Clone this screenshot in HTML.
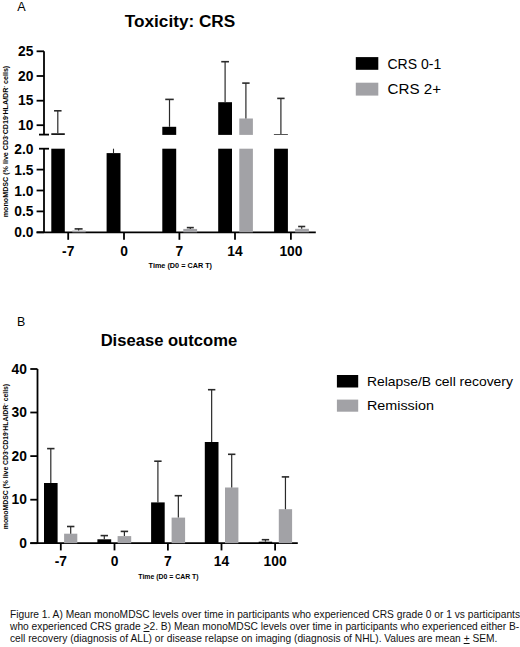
<!DOCTYPE html>
<html><head><meta charset="utf-8"><style>
html,body{margin:0;padding:0;background:#fff;}
body{width:520px;height:647px;overflow:hidden;position:relative;font-family:"Liberation Sans", sans-serif;}
svg{position:absolute;left:0;top:0;}
svg text{font-family:"Liberation Sans", sans-serif;fill:#000;}
.cap{position:absolute;left:10px;top:608.9px;width:515px;font-size:10.22px;line-height:12.12px;color:#111;white-space:nowrap;}
</style></head><body>
<svg width="520" height="647" viewBox="0 0 520 647">
<text x="17.20" y="10.90" font-size="12.6" font-weight="normal" text-anchor="start" >A</text>
<text x="180.00" y="27.10" font-size="17.2" font-weight="bold" text-anchor="middle" >Toxicity: CRS</text>
<line x1="44.00" y1="51.30" x2="44.00" y2="134.60" stroke="#000" stroke-width="1.8"/>
<line x1="44.00" y1="148.70" x2="44.00" y2="232.30" stroke="#000" stroke-width="1.8"/>
<line x1="39.00" y1="134.60" x2="49.00" y2="134.60" stroke="#000" stroke-width="1.8"/>
<line x1="39.00" y1="148.70" x2="49.00" y2="148.70" stroke="#000" stroke-width="1.8"/>
<line x1="36.60" y1="51.30" x2="44.00" y2="51.30" stroke="#000" stroke-width="1.8"/>
<text x="33.40" y="55.90" font-size="13.8" font-weight="bold" text-anchor="end" >25</text>
<line x1="36.60" y1="76.00" x2="44.00" y2="76.00" stroke="#000" stroke-width="1.8"/>
<text x="33.40" y="80.60" font-size="13.8" font-weight="bold" text-anchor="end" >20</text>
<line x1="36.60" y1="100.70" x2="44.00" y2="100.70" stroke="#000" stroke-width="1.8"/>
<text x="33.40" y="105.30" font-size="13.8" font-weight="bold" text-anchor="end" >15</text>
<line x1="36.60" y1="125.20" x2="44.00" y2="125.20" stroke="#000" stroke-width="1.8"/>
<text x="33.40" y="129.80" font-size="13.8" font-weight="bold" text-anchor="end" >10</text>
<text x="33.40" y="153.70" font-size="13.8" font-weight="bold" text-anchor="end" >2.0</text>
<line x1="36.60" y1="169.60" x2="44.00" y2="169.60" stroke="#000" stroke-width="1.8"/>
<text x="33.40" y="174.60" font-size="13.8" font-weight="bold" text-anchor="end" >1.5</text>
<line x1="36.60" y1="190.50" x2="44.00" y2="190.50" stroke="#000" stroke-width="1.8"/>
<text x="33.40" y="195.50" font-size="13.8" font-weight="bold" text-anchor="end" >1.0</text>
<line x1="36.60" y1="211.40" x2="44.00" y2="211.40" stroke="#000" stroke-width="1.8"/>
<text x="33.40" y="216.40" font-size="13.8" font-weight="bold" text-anchor="end" >0.5</text>
<line x1="36.60" y1="232.30" x2="44.00" y2="232.30" stroke="#000" stroke-width="1.8"/>
<text x="33.40" y="237.30" font-size="13.8" font-weight="bold" text-anchor="end" >0.0</text>
<line x1="36.60" y1="232.30" x2="315.80" y2="232.30" stroke="#000" stroke-width="1.8"/>
<line x1="68.20" y1="232.30" x2="68.20" y2="239.80" stroke="#000" stroke-width="1.8"/>
<text x="68.20" y="255.60" font-size="13.8" font-weight="bold" text-anchor="middle" >-7</text>
<line x1="124.00" y1="232.30" x2="124.00" y2="239.80" stroke="#000" stroke-width="1.8"/>
<text x="124.00" y="255.60" font-size="13.8" font-weight="bold" text-anchor="middle" >0</text>
<line x1="179.40" y1="232.30" x2="179.40" y2="239.80" stroke="#000" stroke-width="1.8"/>
<text x="179.40" y="255.60" font-size="13.8" font-weight="bold" text-anchor="middle" >7</text>
<line x1="235.00" y1="232.30" x2="235.00" y2="239.80" stroke="#000" stroke-width="1.8"/>
<text x="235.00" y="255.60" font-size="13.8" font-weight="bold" text-anchor="middle" >14</text>
<line x1="290.90" y1="232.30" x2="290.90" y2="239.80" stroke="#000" stroke-width="1.8"/>
<text x="290.90" y="255.60" font-size="13.8" font-weight="bold" text-anchor="middle" >100</text>
<text x="180.30" y="267.90" font-size="7.7" font-weight="bold" text-anchor="middle" textLength="63.4" lengthAdjust="spacingAndGlyphs">Time (D0 = CAR T)</text>
<text transform="translate(8.1,141.5) rotate(-90)" font-size="7.7" font-weight="bold" text-anchor="middle" textLength="151.5" lengthAdjust="spacingAndGlyphs">monoMDSC (% live CD3<tspan font-size="5" dy="-2.5">-</tspan><tspan dy="2.5">CD19</tspan><tspan font-size="5" dy="-2.5">-</tspan><tspan dy="2.5">HLA/DR</tspan><tspan font-size="5" dy="-2.5">-</tspan><tspan dy="2.5"> cells)</tspan></text>
<rect x="51.30" y="148.70" width="13.50" height="83.60" fill="#000"/>
<rect x="51.30" y="133.30" width="13.50" height="1.60" fill="#000"/>
<line x1="57.80" y1="110.60" x2="57.80" y2="133.30" stroke="#2a2a2a" stroke-width="1.2"/>
<line x1="54.05" y1="110.80" x2="61.55" y2="110.80" stroke="#2a2a2a" stroke-width="1.6"/>
<rect x="72.30" y="230.60" width="13.40" height="1.70" fill="#a2a2a6"/>
<line x1="78.60" y1="228.70" x2="78.60" y2="230.60" stroke="#2a2a2a" stroke-width="1.2"/>
<line x1="74.60" y1="228.90" x2="82.60" y2="228.90" stroke="#2a2a2a" stroke-width="1.6"/>
<rect x="106.60" y="153.10" width="13.90" height="79.20" fill="#000"/>
<line x1="113.50" y1="148.70" x2="113.50" y2="153.10" stroke="#2a2a2a" stroke-width="1.1"/>
<rect x="162.30" y="148.70" width="13.90" height="83.60" fill="#000"/>
<rect x="162.30" y="126.80" width="13.90" height="8.10" fill="#000"/>
<line x1="169.50" y1="99.20" x2="169.50" y2="126.80" stroke="#2a2a2a" stroke-width="1.2"/>
<line x1="165.25" y1="99.40" x2="173.75" y2="99.40" stroke="#2a2a2a" stroke-width="1.6"/>
<rect x="183.30" y="228.90" width="13.80" height="3.40" fill="#a2a2a6"/>
<line x1="190.30" y1="227.40" x2="190.30" y2="228.90" stroke="#2a2a2a" stroke-width="1.2"/>
<line x1="186.80" y1="227.60" x2="193.80" y2="227.60" stroke="#2a2a2a" stroke-width="1.6"/>
<rect x="218.20" y="148.70" width="13.80" height="83.60" fill="#000"/>
<rect x="218.20" y="102.20" width="13.80" height="32.70" fill="#000"/>
<line x1="225.10" y1="61.50" x2="225.10" y2="102.20" stroke="#2a2a2a" stroke-width="1.2"/>
<line x1="221.25" y1="61.70" x2="228.95" y2="61.70" stroke="#2a2a2a" stroke-width="1.6"/>
<rect x="239.30" y="148.70" width="13.60" height="83.60" fill="#a2a2a6"/>
<rect x="239.30" y="118.50" width="13.60" height="16.40" fill="#a2a2a6"/>
<line x1="245.90" y1="82.90" x2="245.90" y2="118.50" stroke="#2a2a2a" stroke-width="1.2"/>
<line x1="242.20" y1="83.10" x2="249.60" y2="83.10" stroke="#2a2a2a" stroke-width="1.6"/>
<rect x="274.10" y="148.70" width="13.80" height="83.60" fill="#000"/>
<line x1="280.90" y1="98.20" x2="280.90" y2="134.50" stroke="#2a2a2a" stroke-width="1.2"/>
<line x1="277.20" y1="98.40" x2="284.60" y2="98.40" stroke="#2a2a2a" stroke-width="1.6"/>
<line x1="273.90" y1="134.50" x2="287.90" y2="134.50" stroke="#555" stroke-width="1.0"/>
<rect x="295.10" y="228.80" width="13.80" height="3.50" fill="#a2a2a6"/>
<line x1="301.70" y1="226.30" x2="301.70" y2="228.80" stroke="#2a2a2a" stroke-width="1.2"/>
<line x1="298.15" y1="226.50" x2="305.25" y2="226.50" stroke="#2a2a2a" stroke-width="1.6"/>
<rect x="355.80" y="57.10" width="22.50" height="12.70" fill="#000"/>
<rect x="355.80" y="82.70" width="22.50" height="12.90" fill="#a2a2a6"/>
<text x="387.50" y="68.70" font-size="14" font-weight="normal" text-anchor="start" >CRS 0-1</text>
<text x="387.50" y="93.60" font-size="14" font-weight="normal" text-anchor="start" textLength="53.5" lengthAdjust="spacingAndGlyphs">CRS 2+</text>
<text x="16.90" y="325.90" font-size="12.4" font-weight="normal" text-anchor="start" >B</text>
<text x="168.90" y="346.00" font-size="16.6" font-weight="bold" text-anchor="middle" >Disease outcome</text>
<line x1="37.50" y1="369.00" x2="37.50" y2="543.20" stroke="#000" stroke-width="1.8"/>
<line x1="30.30" y1="369.00" x2="37.50" y2="369.00" stroke="#000" stroke-width="1.8"/>
<text x="26.90" y="373.60" font-size="13.8" font-weight="bold" text-anchor="end" >40</text>
<line x1="30.30" y1="412.50" x2="37.50" y2="412.50" stroke="#000" stroke-width="1.8"/>
<text x="26.90" y="417.10" font-size="13.8" font-weight="bold" text-anchor="end" >30</text>
<line x1="30.30" y1="456.10" x2="37.50" y2="456.10" stroke="#000" stroke-width="1.8"/>
<text x="26.90" y="460.70" font-size="13.8" font-weight="bold" text-anchor="end" >20</text>
<line x1="30.30" y1="499.70" x2="37.50" y2="499.70" stroke="#000" stroke-width="1.8"/>
<text x="26.90" y="504.30" font-size="13.8" font-weight="bold" text-anchor="end" >10</text>
<line x1="30.30" y1="543.20" x2="37.50" y2="543.20" stroke="#000" stroke-width="1.8"/>
<text x="26.90" y="547.80" font-size="13.8" font-weight="bold" text-anchor="end" >0</text>
<line x1="30.30" y1="543.20" x2="297.80" y2="543.20" stroke="#000" stroke-width="1.8"/>
<line x1="60.80" y1="543.20" x2="60.80" y2="550.40" stroke="#000" stroke-width="1.8"/>
<text x="60.80" y="565.60" font-size="13.8" font-weight="bold" text-anchor="middle" >-7</text>
<line x1="114.50" y1="543.20" x2="114.50" y2="550.40" stroke="#000" stroke-width="1.8"/>
<text x="114.50" y="565.60" font-size="13.8" font-weight="bold" text-anchor="middle" >0</text>
<line x1="167.90" y1="543.20" x2="167.90" y2="550.40" stroke="#000" stroke-width="1.8"/>
<text x="167.90" y="565.60" font-size="13.8" font-weight="bold" text-anchor="middle" >7</text>
<line x1="221.50" y1="543.20" x2="221.50" y2="550.40" stroke="#000" stroke-width="1.8"/>
<text x="221.50" y="565.60" font-size="13.8" font-weight="bold" text-anchor="middle" >14</text>
<line x1="275.10" y1="543.20" x2="275.10" y2="550.40" stroke="#000" stroke-width="1.8"/>
<text x="275.10" y="565.60" font-size="13.8" font-weight="bold" text-anchor="middle" >100</text>
<text x="168.45" y="579.30" font-size="7.5" font-weight="bold" text-anchor="middle" textLength="60.3" lengthAdjust="spacingAndGlyphs">Time (D0 = CAR T)</text>
<text transform="translate(8.2,456.5) rotate(-90)" font-size="7.5" font-weight="bold" text-anchor="middle" textLength="145.3" lengthAdjust="spacingAndGlyphs">monoMDSC (% live CD3<tspan font-size="5" dy="-2.5">-</tspan><tspan dy="2.5">CD19</tspan><tspan font-size="5" dy="-2.5">-</tspan><tspan dy="2.5">HLA/DR</tspan><tspan font-size="5" dy="-2.5">-</tspan><tspan dy="2.5"> cells)</tspan></text>
<rect x="44.00" y="483.00" width="13.60" height="60.20" fill="#000"/>
<line x1="50.80" y1="448.40" x2="50.80" y2="483.00" stroke="#2a2a2a" stroke-width="1.2"/>
<line x1="47.10" y1="448.60" x2="54.50" y2="448.60" stroke="#2a2a2a" stroke-width="1.6"/>
<rect x="64.10" y="533.70" width="13.20" height="9.50" fill="#a2a2a6"/>
<line x1="70.70" y1="526.30" x2="70.70" y2="533.70" stroke="#2a2a2a" stroke-width="1.2"/>
<line x1="67.00" y1="526.50" x2="74.40" y2="526.50" stroke="#2a2a2a" stroke-width="1.6"/>
<rect x="97.40" y="539.30" width="13.80" height="3.90" fill="#000"/>
<line x1="104.30" y1="535.40" x2="104.30" y2="539.30" stroke="#2a2a2a" stroke-width="1.2"/>
<line x1="100.60" y1="535.60" x2="108.00" y2="535.60" stroke="#2a2a2a" stroke-width="1.6"/>
<rect x="117.60" y="536.10" width="13.60" height="7.10" fill="#a2a2a6"/>
<line x1="124.40" y1="531.20" x2="124.40" y2="536.10" stroke="#2a2a2a" stroke-width="1.2"/>
<line x1="120.70" y1="531.40" x2="128.10" y2="531.40" stroke="#2a2a2a" stroke-width="1.6"/>
<rect x="151.10" y="502.40" width="13.60" height="40.80" fill="#000"/>
<line x1="157.90" y1="461.00" x2="157.90" y2="502.40" stroke="#2a2a2a" stroke-width="1.2"/>
<line x1="154.20" y1="461.20" x2="161.60" y2="461.20" stroke="#2a2a2a" stroke-width="1.6"/>
<rect x="171.60" y="517.60" width="13.50" height="25.60" fill="#a2a2a6"/>
<line x1="178.35" y1="495.50" x2="178.35" y2="517.60" stroke="#2a2a2a" stroke-width="1.2"/>
<line x1="174.65" y1="495.70" x2="182.05" y2="495.70" stroke="#2a2a2a" stroke-width="1.6"/>
<rect x="204.80" y="442.00" width="13.70" height="101.20" fill="#000"/>
<line x1="211.65" y1="389.50" x2="211.65" y2="442.00" stroke="#2a2a2a" stroke-width="1.2"/>
<line x1="207.95" y1="389.70" x2="215.35" y2="389.70" stroke="#2a2a2a" stroke-width="1.6"/>
<rect x="225.00" y="487.50" width="13.40" height="55.70" fill="#a2a2a6"/>
<line x1="231.70" y1="454.10" x2="231.70" y2="487.50" stroke="#2a2a2a" stroke-width="1.2"/>
<line x1="228.00" y1="454.30" x2="235.40" y2="454.30" stroke="#2a2a2a" stroke-width="1.6"/>
<rect x="258.70" y="541.70" width="13.50" height="1.50" fill="#000"/>
<line x1="265.45" y1="539.50" x2="265.45" y2="541.70" stroke="#2a2a2a" stroke-width="1.2"/>
<line x1="261.75" y1="539.70" x2="269.15" y2="539.70" stroke="#2a2a2a" stroke-width="1.6"/>
<rect x="278.80" y="509.20" width="13.30" height="34.00" fill="#a2a2a6"/>
<line x1="285.45" y1="476.70" x2="285.45" y2="509.20" stroke="#2a2a2a" stroke-width="1.2"/>
<line x1="281.75" y1="476.90" x2="289.15" y2="476.90" stroke="#2a2a2a" stroke-width="1.6"/>
<rect x="336.90" y="375.00" width="21.30" height="12.50" fill="#000"/>
<rect x="336.90" y="399.60" width="21.30" height="12.10" fill="#a2a2a6"/>
<text x="366.90" y="385.60" font-size="13.2" font-weight="normal" text-anchor="start" textLength="146" lengthAdjust="spacingAndGlyphs">Relapse/B cell recovery</text>
<text x="366.90" y="409.90" font-size="13.2" font-weight="normal" text-anchor="start" textLength="67" lengthAdjust="spacingAndGlyphs">Remission</text>
</svg>
<div class="cap">Figure 1. A) Mean monoMDSC levels over time in participants who experienced CRS grade 0 or 1 vs participants<br>who experienced CRS grade <u>&gt;</u>2. B) Mean monoMDSC levels over time in participants who experienced either B-<br>cell recovery (diagnosis of ALL) or disease relapse on imaging (diagnosis of NHL). Values are mean <u>+</u> SEM.</div>
</body></html>
